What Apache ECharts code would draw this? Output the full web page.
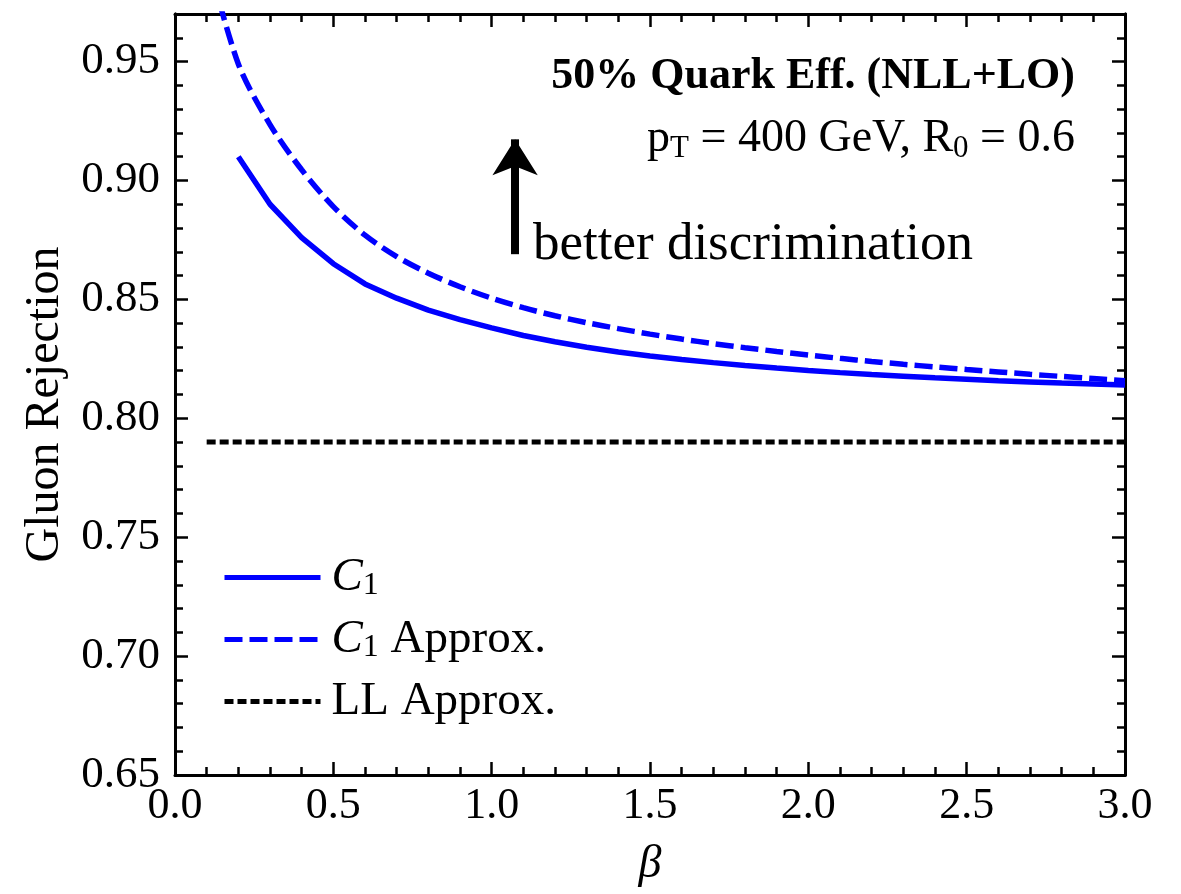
<!DOCTYPE html>
<html>
<head>
<meta charset="utf-8">
<script src="https://cdn.jsdelivr.net/npm/echarts@6/dist/echarts.min.js"></script>
<style>
html,body{margin:0;padding:0;background:#fff;}
#chart{width:1181px;height:894px;}
</style>
</head>
<body>
<div id="chart"></div>
<script>
// ---- data ----
var betaC1 = [0.2,0.3,0.4,0.5,0.6,0.7,0.8,0.9,1.0,1.1,1.2,1.3,1.4,1.5,1.6,1.7,1.8,1.9,2.0,2.1,2.2,2.3,2.4,2.5,2.6,2.7,2.8,2.9,3.0];
var c1 = [0.910,0.890,0.876,0.865,0.8565,0.8505,0.8455,0.8415,0.8380,0.8348,0.8322,0.8299,0.8279,0.8262,0.8247,0.8234,0.8222,0.8211,0.8201,0.8192,0.8184,0.8177,0.8170,0.8164,0.8158,0.8153,0.8148,0.8144,0.8140];
var betaApprox = [0.1,0.2,0.3,0.4,0.5,0.6,0.7,0.8,0.9,1.0,1.1,1.2,1.3,1.4,1.5,1.6,1.7,1.8,1.9,2.0,2.1,2.2,2.3,2.4,2.5,2.6,2.7,2.8,2.9,3.0];
var c1Approx = [0.995,0.949,0.9235,0.9045,0.889,0.877,0.868,0.861,0.8553,0.8505,0.8465,0.8431,0.8402,0.8377,0.8354,0.8333,0.8314,0.8297,0.8281,0.8266,0.8252,0.8239,0.8227,0.8216,0.8205,0.8195,0.8185,0.8176,0.8167,0.8158];
var betaLL = [0.1,3.0];
var llApprox = [0.79,0.79];
var xTicks = ['0.0','0.5','1.0','1.5','2.0','2.5','3.0'];
var yTicks = ['0.65','0.70','0.75','0.80','0.85','0.90','0.95'];
var seriesNames = ['C1','C1 Approx.','LL Approx.'];
var arrowBeta = [1.074,1.074];
var arrowVal = [0.869,0.9173];

function pairs(xs, ys){ return xs.map(function(x,i){ return [x, ys[i]]; }); }

var FONT = '"Liberation Serif", "Times New Roman", serif';
var chart = echarts.init(document.getElementById('chart'), null, {renderer:'canvas'});

var axisLineStyle = {color:'#000', width:3};
var majorTick = {show:true, inside:true, length:13, lineStyle:{color:'#000', width:2.5}};
var minorTickX = {show:true, splitNumber:5, length:8, lineStyle:{color:'#000', width:2.5}};

function yAxisDef(pos, interval, len, labels){
  return {
    type:'value', position:pos, min:0.65, max:0.97, interval:interval,
    axisLine:{show:true, onZero:false, lineStyle:axisLineStyle},
    axisTick:{show:true, inside:true, length:len, lineStyle:{color:'#000', width:2.5}},
    splitLine:{show:false},
    axisLabel: labels ? {
      show:true, margin:15, fontSize:45, fontFamily:FONT, color:'#000', showMaxLabel:false,
      formatter:function(v){ var s=v.toFixed(2); return yTicks.indexOf(s)>=0 ? s : ''; }
    } : {show:false},
    name: labels ? 'Gluon Rejection' : '',
    nameLocation:'middle', nameGap:106, nameRotate:90,
    nameTextStyle:{fontSize:48, fontFamily:FONT, color:'#000', padding:[0,20,0,0]}
  };
}

var option = {
  animation:false,
  backgroundColor:'#fff',
  grid:{left:175, right:56, top:14, bottom:119, containLabel:false},
  xAxis:[{
    type:'value', position:'bottom', min:0, max:3, interval:0.5,
    axisLine:{show:true, onZero:false, lineStyle:axisLineStyle},
    axisTick:majorTick, minorTick:minorTickX, splitLine:{show:false}, minorSplitLine:{show:false},
    axisLabel:{show:true, margin:9, fontSize:44, fontFamily:FONT, color:'#000',
      formatter:function(v){ return xTicks[Math.round(v/0.5)]; }},
    name:'β', nameLocation:'middle', nameGap:67,
    nameTextStyle:{fontSize:46, fontFamily:FONT, fontStyle:'italic', color:'#000'}
  },{
    type:'value', position:'top', min:0, max:3, interval:0.5,
    axisLine:{show:true, onZero:false, lineStyle:axisLineStyle},
    axisTick:majorTick, minorTick:minorTickX, splitLine:{show:false},
    axisLabel:{show:false}
  }],
  yAxis:[
    yAxisDef('left', 0.05, 13, true),
    yAxisDef('left', 0.01, 8, false),
    yAxisDef('right', 0.05, 13, false),
    yAxisDef('right', 0.01, 8, false)
  ],
  legend:{
    orient:'vertical', left:222, top:554, padding:0, itemGap:14.5,
    itemWidth:96, itemHeight:14,
    data:seriesNames,
    lineStyle:{width:5},
    itemStyle:{color:'rgba(0,0,0,0)', borderWidth:0, opacity:0},
    textStyle:{fontFamily:FONT, fontSize:47, color:'#000', padding:[0,0,0,6],
      rich:{
        ci:{fontFamily:FONT, fontSize:47, fontStyle:'italic', color:'#000', lineHeight:48, verticalAlign:'middle'},
        sub:{fontFamily:FONT, fontSize:32, color:'#000', lineHeight:26, verticalAlign:'bottom'},
        n:{fontFamily:FONT, fontSize:47, color:'#000', lineHeight:48, verticalAlign:'middle'}
      }},
    formatter:function(name){
      if(name==='C1') return '{ci|C}{sub|1}';
      if(name==='C1 Approx.') return '{ci|C}{sub|1}{n| Approx.}';
      return '{n|LL Approx.}';
    }
  },
  series:[
    {name:seriesNames[0], type:'line', data:pairs(betaC1,c1), showSymbol:false, symbol:'none', clip:true,
     lineStyle:{color:'#0000ff', width:5.5, type:'solid'}, itemStyle:{color:'#0000ff'}},
    {name:seriesNames[1], type:'line', data:pairs(betaApprox,c1Approx), showSymbol:false, symbol:'none', smooth:0.3, clip:true,
     lineStyle:{color:'#0000ff', width:5.5, type:[18,7]}, itemStyle:{color:'#0000ff'}},
    {name:seriesNames[2], type:'line', data:pairs(betaLL,llApprox), showSymbol:false, symbol:'none', clip:true,
     lineStyle:{color:'#000', width:5, type:[9,4]}, itemStyle:{color:'#000'}},
    {name:'arrow', type:'line', data:[], silent:true,
     markLine:{silent:true, animation:false, symbol:['none','arrow'], symbolSize:[34,36],
       label:{show:false}, lineStyle:{color:'#000', width:8, type:'solid'},
       data:[[{coord:[arrowBeta[0],arrowVal[0]]},{coord:[arrowBeta[1],arrowVal[1]]}]]}}
  ],
  graphic:[
    {type:'text', x:1075, y:77, style:{text:'50% Quark Eff. (NLL+LO)', font:'bold 44px '+FONT, fill:'#000', align:'right', verticalAlign:'middle'}},
    {type:'text', x:1075, y:139, style:{
      text:'{n|p}{s|T}{n| = 400 GeV, R}{s|0}{n| = 0.6}',
      align:'right', verticalAlign:'middle',
      rich:{
        n:{fontFamily:FONT, fontSize:46, fill:'#000', lineHeight:50, verticalAlign:'middle'},
        s:{fontFamily:FONT, fontSize:31, fill:'#000', lineHeight:28, verticalAlign:'bottom'}
      }}},
    {type:'text', x:533, y:245, style:{text:'better discrimination', font:'53px '+FONT, fill:'#000', align:'left', verticalAlign:'middle'}}
  ]
};
chart.setOption(option);
</script>
</body>
</html>
